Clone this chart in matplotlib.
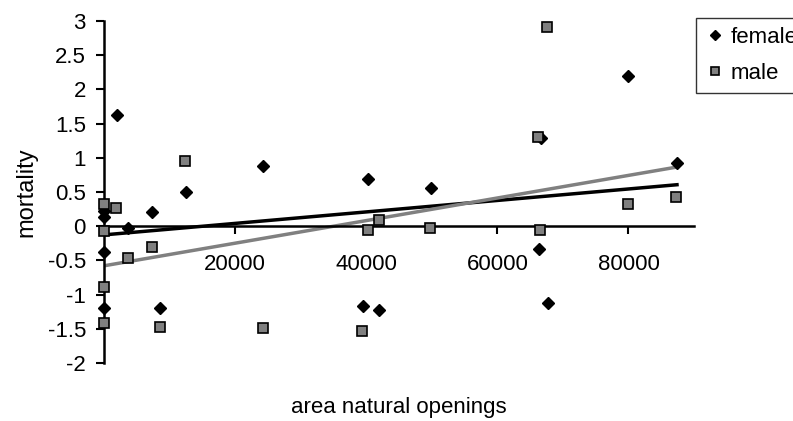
import matplotlib
matplotlib.use("Agg")
import numpy as np
import matplotlib.pyplot as plt

# data
female_x = [0, 0, 0, 0, 2000, 3700, 7400, 8500, 12500, 24200,
            39500, 40300, 42000, 49900, 66300, 66600, 67700, 80000, 87400]
female_y = [0.22, 0.14, -0.38, -1.19, 1.63, -0.02, 0.21, -1.19, 0.50, 0.88,
            -1.17, 0.69, -1.23, 0.56, -0.34, 1.29, -1.12, 2.19, 0.93]
male_x = [0, 0, 0, 0, 1900, 3600, 7300, 8500, 12400, 24200,
          39300, 40200, 41900, 49800, 66200, 66500, 67500, 80000, 87300]
male_y = [0.33, -0.07, -0.89, -1.42, 0.27, -0.46, -0.30, -1.48, 0.95, -1.49,
          -1.53, -0.05, 0.09, -0.02, 1.31, -0.06, 2.91, 0.33, 0.43]

x_ticks = [20000, 40000, 60000, 80000]
y_ticks = np.arange(-2, 3.01, 0.5)
y_labels = ["-2", "-1.5", "-1", "-0.5", "0", "0.5", "1", "1.5", "2", "2.5", "3"]

plt.rcParams['font.family'] = ['Liberation Sans', 'DejaVu Sans']

fig = plt.figure(figsize=(7.93, 4.21), dpi=100)
ax = fig.add_axes([0.1311, 0.1378, 0.7441, 0.8124])

ax.plot(female_x, female_y, 'D', color='black', ms=6.5, ls='none', label='female',
        zorder=3, clip_on=False)
ax.plot(male_x, male_y, 's', mfc='#808080', mec='black', mew=1.2, ms=7.5, ls='none',
        label='male', zorder=3, clip_on=False)

# linear trend lines
fx = np.array([min(female_x), max(female_x)])
p = np.polyfit(female_x, female_y, 1)
ax.plot(fx, np.polyval(p, fx), color='black', lw=2.5, zorder=2)
mx = np.array([min(male_x), max(male_x)])
p = np.polyfit(male_x, male_y, 1)
ax.plot(mx, np.polyval(p, mx), color='#808080', lw=2.5, zorder=2)

ax.set_xlim(0, 90000)
ax.set_ylim(-2, 3)
ax.spines['top'].set_visible(False)
ax.spines['right'].set_visible(False)
ax.spines['left'].set_position(('data', 0))
ax.spines['bottom'].set_position(('data', 0))
ax.spines['left'].set_linewidth(1.8)
ax.spines['bottom'].set_linewidth(1.8)

ax.set_xticks(x_ticks)
ax.set_xticklabels([str(t) for t in x_ticks])
ax.set_yticks(y_ticks)
ax.set_yticklabels(y_labels)
ax.tick_params(axis='both', direction='out', length=6, width=1.5, labelsize=16)
ax.tick_params(axis='x', pad=14)
ax.tick_params(axis='y', pad=7)

ax.set_ylabel('mortality', fontsize=17)
ax.yaxis.set_label_coords(-0.113, 0.5)
ax.set_xlabel('area natural openings', fontsize=16)
ax.xaxis.set_label_coords(0.5, -0.1)

leg = fig.legend(loc='upper left', bbox_to_anchor=(696 / 793, 1 - 18 / 421),
                 fontsize=16, frameon=True, fancybox=False, borderaxespad=0,
                 handlelength=0.9, handletextpad=0.25, labelspacing=0.68,
                 borderpad=0.4, markerscale=0.75)
leg.get_frame().set_edgecolor('black')
leg.get_frame().set_linewidth(1)

fig.savefig('out.png', dpi=100)
